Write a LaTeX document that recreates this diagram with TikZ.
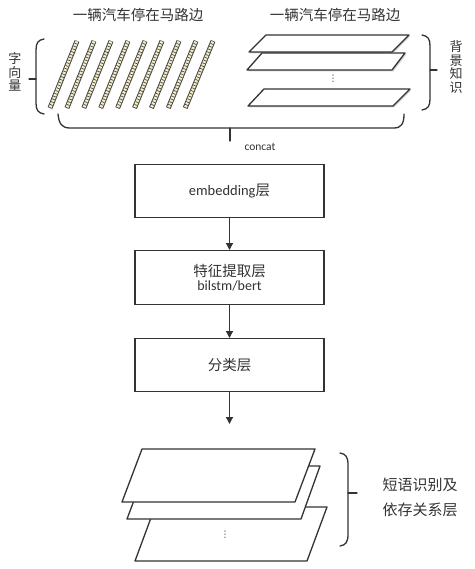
\documentclass[tikz,border=0pt]{standalone}
\usepackage{fontspec}
\setmainfont{Carlito}
\newfontfamily\cjk{Noto Sans CJK SC}
\newfontfamily\dvs{DejaVu Sans}
\usetikzlibrary{arrows.meta,shadows}
\definecolor{ink}{HTML}{333333}
\definecolor{cream}{HTML}{F4EFC8}
\begin{document}
\begin{tikzpicture}[x=1pt,y=-1pt,
  every node/.style={text=ink},
  layerbox/.style={draw=ink,line width=1.3pt,fill=white},
  flow/.style={draw=ink,line width=1.3pt,-{Triangle[length=7pt,width=7pt]}},
  bracketline/.style={draw=ink,line width=1.3pt,line cap=round},
  plane/.style={draw=ink,line width=1.3pt,fill=white,line join=round},
  shplane/.style={plane,drop shadow={shadow xshift=1.2pt,shadow yshift=-1.5pt,opacity=0.35}},
  title/.style={font=\cjk\fontsize{14.5}{16}\selectfont},
  sidelabel/.style={align=center},
  vdot/.style={font=\dvs\fontsize{9}{10}\selectfont,inner sep=0pt},
]
\useasboundingbox (0,0) rectangle (474,569);

% titles
\node[title] (t1) at (138,15) {一辆汽车停在马路边};
\node[title] (t2) at (335,15) {一辆汽车停在马路边};

% word vector bars
\foreach \i in {0,...,8}{
  \draw[line width=5pt,draw=gray!55!black] (50+16.9*\i,108) -- (77+17*\i,41);
  \draw[line width=3pt,draw=cream] (50+16.9*\i,108) -- (77+17*\i,41);
  \draw[line width=3pt,draw=gray!60!black,dash pattern=on 0.7pt off 2.3pt] (50+16.9*\i,108) -- (77+17*\i,41);
}

% left brace + label
\draw[bracketline] (44,39) .. controls (38,40) and (36,43) .. (36,50) -- (36,103) .. controls (36,110) and (38,113) .. (44,114);
\coordinate (lbtip) at (36,79);
\coordinate (lbend) at (29,79);
\draw[bracketline] (lbtip) -- (lbend);
\node[sidelabel,font=\cjk\fontsize{13}{13.5}\selectfont] (lbl1) at (15,72) {字\\向\\量};

% right planes
\draw[shplane] (262,53) -- (405,53) -- (392,70) -- (247,70) -- cycle;
\draw[shplane] (266,35) -- (409,35) -- (392,52) -- (249,52) -- cycle;
\draw[shplane] (264,89) -- (410,89) -- (393,106) -- (248,106) -- cycle;
\node[vdot] (dots1) at (333,79) {⋮};

% right brace + label
\draw[bracketline] (422,35) .. controls (428,36) and (430,39) .. (430,46) -- (430,99) .. controls (430,106) and (428,109) .. (422,110);
\coordinate (rbtip) at (430,70);
\coordinate (rbend) at (437,70);
\draw[bracketline] (rbtip) -- (rbend);
\node[sidelabel,font=\cjk\fontsize{13}{13.5}\selectfont] (lbl2) at (456,67) {背\\景\\知\\识};

% concat bracket
\draw[bracketline] (58,114) .. controls (59,124) and (62,128) .. (70,128) -- (394,128) .. controls (401,128) and (404,124) .. (404,114);
\coordinate (ctop) at (230,128);
\coordinate (cbot) at (230,141);
\draw[bracketline] (ctop) -- (cbot);
\node[font=\fontsize{11.5}{12}\selectfont] (concat) at (260,147) {concat};

% boxes
\node[layerbox,minimum width=189pt,minimum height=53pt,anchor=north] (emb) at (229.5,164) {\fontsize{14.5}{16}\selectfont embedding{\cjk 层}};
\node[layerbox,minimum width=189pt,minimum height=54pt,anchor=north,align=center] (feat) at (229.5,250) {\fontsize{14.5}{16}\selectfont{\cjk 特征提取层}\\[2pt]\fontsize{14}{16}\selectfont bilstm/bert};
\node[layerbox,minimum width=189pt,minimum height=53pt,anchor=north] (cls) at (229.5,338) {\cjk\fontsize{14.5}{16}\selectfont 分类层};
\coordinate (out) at (229.5,424);
\draw[flow] (emb.south) -- (feat.north);
\draw[flow] (feat.south) -- (cls.north);
\draw[flow] (cls.south) -- (out);

% bottom planes
\draw[plane] (155,507) -- (327,507) -- (307,561) -- (135,561) -- cycle;
\draw[plane] (147,466) -- (320,466) -- (301,519) -- (127,519) -- cycle;
\draw[plane] (142,449) -- (315,449) -- (295,502) -- (122,502) -- cycle;
\node[vdot] (dots2) at (225,535) {⋮};

% bottom brace + label
\draw[bracketline] (340,453) .. controls (346,454) and (348,457) .. (348,465) -- (348,534) .. controls (348,542) and (346,545) .. (340,546);
\coordinate (bbtip) at (348,493);
\coordinate (bbend) at (357,493);
\draw[bracketline] (bbtip) -- (bbend);
\node[font=\cjk\fontsize{15}{25}\selectfont,align=center] (lbl3) at (420,497) {短语识别及\\依存关系层};
\end{tikzpicture}
\end{document}
